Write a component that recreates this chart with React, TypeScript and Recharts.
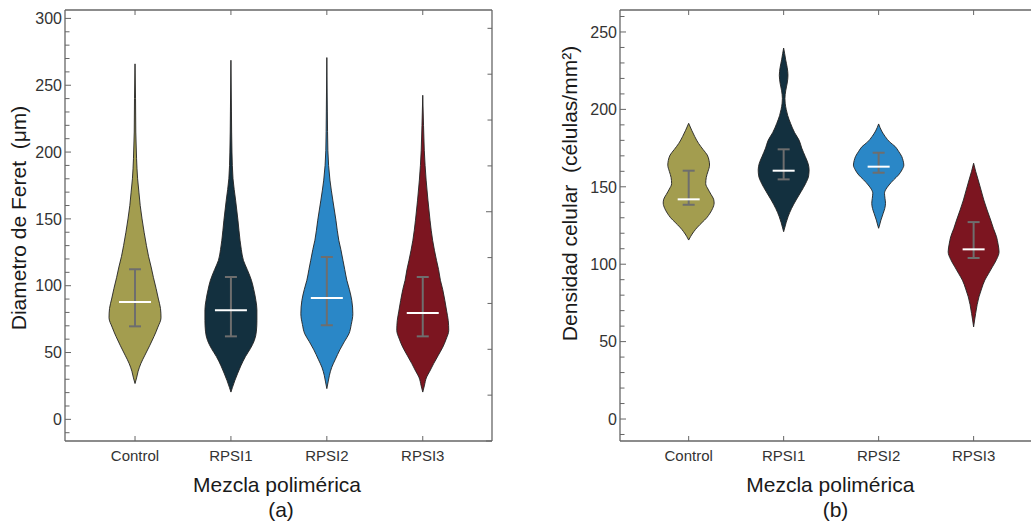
import React from 'react';
import { ComposedChart, Area, Scatter, ErrorBar, XAxis, YAxis } from 'recharts';

const CATEGORIES = ['Control', 'RPSI1', 'RPSI2', 'RPSI3'];
const POSITIONS = [1, 2, 3, 4];
const COLORS = ['#A39D4F', '#13303F', '#2A87C7', '#7C1520'];

// ---------- Panel (a): Diametro de Feret ----------
const feretControlY = [26.8, 31, 36, 42, 48, 55, 62, 69, 76, 83, 90, 98, 106, 114, 122, 130, 140, 150, 160, 170, 180, 195, 215, 240, 266];
const feretControlD = [0, 0.06, 0.12, 0.23, 0.38, 0.56, 0.73, 0.88, 1, 0.98, 0.9, 0.81, 0.71, 0.62, 0.52, 0.44, 0.35, 0.27, 0.2, 0.15, 0.1, 0.06, 0.03, 0.02, 0];
const feretRpsi1Y = [20.4, 24, 29, 34, 40, 47, 53, 59, 66, 74, 82, 89, 97, 104, 112, 119, 127, 134, 149, 164, 180, 200, 230, 268.7];
const feretRpsi1D = [0, 0.06, 0.15, 0.25, 0.38, 0.56, 0.75, 0.9, 0.98, 1, 1, 0.96, 0.88, 0.79, 0.63, 0.48, 0.4, 0.35, 0.27, 0.18, 0.08, 0.04, 0.02, 0];
const feretRpsi2Y = [23, 28, 33, 39, 45, 52, 58, 64, 71, 79, 89, 97, 104, 112, 119, 127, 134, 149, 164, 179, 201, 230, 270.7];
const feretRpsi2D = [0, 0.05, 0.1, 0.19, 0.33, 0.5, 0.67, 0.85, 0.94, 1, 0.96, 0.87, 0.77, 0.69, 0.62, 0.54, 0.46, 0.35, 0.23, 0.12, 0.04, 0.02, 0];
const feretRpsi3Y = [20.4, 25, 31.7, 36, 41.7, 48, 54, 60, 66.6, 74, 81, 89, 97, 104, 112, 119, 134, 149, 164, 179, 201, 220, 242.5];
const feretRpsi3D = [0, 0.06, 0.15, 0.27, 0.42, 0.6, 0.77, 0.9, 1, 0.98, 0.92, 0.85, 0.77, 0.68, 0.61, 0.53, 0.38, 0.28, 0.2, 0.13, 0.06, 0.03, 0];
const feretMedian = [87.8, 81.6, 90.8, 79.6];
const feretLower = [69.6, 62.1, 70.4, 62.1];
const feretUpper = [112.3, 106.5, 121.5, 106.5];
const feretMajorTicks = [0, 50, 100, 150, 200, 250, 300];

// ---------- Panel (b): Densidad celular ----------
const densControlY = [115.6, 118, 121, 124, 127, 130, 133, 136, 139.5, 142, 145, 148.5, 152, 156, 160, 164, 167, 170.5, 174, 178, 182.4, 186.5, 191];
const densControlD = [0, 0.08, 0.2, 0.35, 0.53, 0.71, 0.84, 0.94, 1, 0.98, 0.88, 0.76, 0.67, 0.69, 0.76, 0.82, 0.8, 0.73, 0.57, 0.39, 0.24, 0.12, 0];
const densRpsi1Y = [121, 124, 127, 131, 136, 141.5, 147, 152, 157, 161, 165, 169.5, 175, 180, 185, 191, 196, 200, 204, 207, 212, 217, 222, 227, 232, 236, 239.6];
const densRpsi1D = [0, 0.05, 0.1, 0.18, 0.31, 0.49, 0.69, 0.86, 0.98, 1, 0.96, 0.85, 0.71, 0.61, 0.43, 0.27, 0.16, 0.1, 0.06, 0.05, 0.08, 0.14, 0.17, 0.14, 0.08, 0.04, 0];
const densRpsi2Y = [123.2, 126, 128.5, 132.9, 136, 139.3, 142.5, 145.8, 148.5, 151.2, 154.5, 157.6, 161, 164, 167, 169.5, 173, 176, 179, 182.4, 186, 190.6];
const densRpsi2D = [0, 0.05, 0.09, 0.18, 0.24, 0.27, 0.25, 0.23, 0.29, 0.41, 0.59, 0.78, 0.92, 0.99, 0.96, 0.91, 0.78, 0.65, 0.43, 0.26, 0.12, 0];
const densRpsi3Y = [59.5, 64, 68.2, 74, 78.9, 84, 89.7, 94, 98.3, 103, 108, 113, 117.7, 123, 128.5, 135, 141.5, 148, 154.4, 160, 165.2];
const densRpsi3D = [0, 0.04, 0.08, 0.14, 0.21, 0.31, 0.44, 0.59, 0.74, 0.9, 1, 0.96, 0.9, 0.78, 0.67, 0.53, 0.4, 0.29, 0.18, 0.08, 0];
const densMedian = [141.9, 160.4, 163, 109.6];
const densLower = [138.4, 154.8, 159.1, 104];
const densUpper = [160.4, 174.2, 172, 127.2];
const densMajorTicks = [0, 50, 100, 150, 200, 250];

const AXIS = '#666666';
const TICK_TEXT = '#333333';
const TITLE = '#1a1a1a';
const FONT = '"Liberation Sans", Arial, Helvetica, sans-serif';

type Violin = { values: number[]; density: number[] };

function buildRows(violins: Violin[], halfMax: number) {
  const rows: any[] = [];
  violins.forEach((v, i) => {
    v.values.forEach((y, j) => {
      const hw = v.density[j] * halfMax;
      rows.push({ y, ['v' + i]: [POSITIONS[i] - hw, POSITIONS[i] + hw] });
    });
  });
  rows.sort((a, b) => a.y - b.y);
  return rows;
}

function minorTicks(lo: number, hi: number, step: number) {
  const t: number[] = [];
  for (let v = lo; v <= hi; v += step) t.push(v);
  return t;
}

const LeftTick = (props: any) => {
  const { x, y, payload, majors } = props;
  const v = payload.value;
  const major = majors.includes(v);
  const ax = x + 3;
  return (
    <g>
      <line x1={ax} x2={ax + (major ? 6 : 4.5)} y1={y} y2={y} stroke={AXIS} strokeWidth={1} />
      {major && (
        <text x={x} y={y} dy="0.36em" textAnchor="end" fontSize={16} fill={TICK_TEXT} fontFamily={FONT}>
          {v}
        </text>
      )}
    </g>
  );
};

const RightTick = (props: any) => {
  const { x, y, payload, majors } = props;
  const major = majors.includes(payload.value);
  return <line x1={x} x2={x - (major ? 6 : 4.5)} y1={y} y2={y} stroke={AXIS} strokeWidth={1} />;
};

const TopTick = (props: any) => {
  const { x, y } = props;
  return <line x1={x} x2={x} y1={y} y2={y + 5} stroke={AXIS} strokeWidth={1} />;
};

const BottomTick = (props: any) => {
  const { x, y, payload } = props;
  return (
    <g>
      <line x1={x} x2={x} y1={y} y2={y - 5} stroke={AXIS} strokeWidth={1} />
      <text x={x} y={y + 19.8} textAnchor="middle" fontSize={15} fill={TICK_TEXT} fontFamily={FONT}>
        {CATEGORIES[payload.value - 1]}
      </text>
    </g>
  );
};

type PanelProps = {
  left: number;
  width: number;
  yAxisWidth: number;
  violins: Violin[];
  halfMax: number;
  medians: number[];
  lowers: number[];
  uppers: number[];
  yDomain: [number, number];
  yTicks: number[];
  majors: number[];
  xDomain: [number, number];
  medianHalf: number;
};

function ViolinPanel(p: PanelProps) {
  const rows = buildRows(p.violins, p.halfMax);
  const stats = POSITIONS.map((x, i) => ({
    x,
    y: p.medians[i],
    err: [p.medians[i] - p.lowers[i], p.uppers[i] - p.medians[i]],
  }));
  const axisLine = { stroke: AXIS, strokeWidth: 1.3 };
  return (
    <div style={{ position: 'absolute', left: p.left, top: 0 }}>
      <ComposedChart
        layout="vertical"
        width={p.width}
        height={470}
        data={rows}
        margin={{ top: 5, right: 0, bottom: 0, left: 0 }}
      >
        <XAxis
          type="number"
          domain={p.xDomain}
          ticks={POSITIONS}
          interval={0}
          allowDataOverflow
          height={29}
          tickSize={0}
          tickMargin={0}
          tickLine={false}
          axisLine={axisLine}
          tick={(tp: any) => <BottomTick {...tp} />}
        />
        <XAxis
          xAxisId="top"
          orientation="top"
          type="number"
          domain={p.xDomain}
          ticks={POSITIONS}
          interval={0}
          allowDataOverflow
          height={5}
          tickSize={0}
          tickMargin={0}
          tickLine={false}
          axisLine={axisLine}
          tick={(tp: any) => <TopTick {...tp} />}
        />
        <YAxis
          type="number"
          dataKey="y"
          reversed
          domain={p.yDomain}
          ticks={p.yTicks}
          interval={0}
          allowDataOverflow
          width={p.yAxisWidth}
          tickSize={0}
          tickMargin={3}
          tickLine={false}
          axisLine={axisLine}
          tick={(tp: any) => <LeftTick {...tp} majors={p.majors} />}
        />
        <YAxis
          yAxisId="right"
          orientation="right"
          type="number"
          reversed
          domain={p.yDomain}
          ticks={p.yTicks}
          interval={0}
          allowDataOverflow
          width={8}
          tickSize={0}
          tickMargin={0}
          tickLine={false}
          axisLine={axisLine}
          tick={(tp: any) => <RightTick {...tp} majors={p.majors} />}
        />
        {p.violins.map((_, i) => (
          <Area
            key={i}
            dataKey={(d: any) => d['v' + i] ?? [null, null]}
            type="monotone"
            fill={COLORS[i]}
            fillOpacity={1}
            stroke="#222222"
            strokeWidth={0.9}
            connectNulls
            dot={false}
            activeDot={false}
            isAnimationActive={false}
          />
        ))}
        <Scatter
          data={stats}
          dataKey="x"
          isAnimationActive={false}
          shape={(sp: any) => (
            <line
              x1={sp.cx - p.medianHalf}
              x2={sp.cx + p.medianHalf}
              y1={sp.cy}
              y2={sp.cy}
              stroke="#ffffff"
              strokeWidth={2}
            />
          )}
        >
          <ErrorBar dataKey="err" direction="y" width={6} stroke="#6e6e6e" strokeWidth={2} />
        </Scatter>
      </ComposedChart>
    </div>
  );
}

export default function App() {
  const feretViolins: Violin[] = [
    { values: feretControlY, density: feretControlD },
    { values: feretRpsi1Y, density: feretRpsi1D },
    { values: feretRpsi2Y, density: feretRpsi2D },
    { values: feretRpsi3Y, density: feretRpsi3D },
  ];
  const densViolins: Violin[] = [
    { values: densControlY, density: densControlD },
    { values: densRpsi1Y, density: densRpsi1D },
    { values: densRpsi2Y, density: densRpsi2D },
    { values: densRpsi3Y, density: densRpsi3D },
  ];
  return (
    <div
      style={{
        position: 'fixed',
        left: 0,
        top: 0,
        width: 1031,
        height: 527,
        overflow: 'hidden',
        background: '#ffffff',
        fontFamily: FONT,
      }}
    >
      <ViolinPanel
        left={0}
        width={500}
        yAxisWidth={65}
        violins={feretViolins}
        halfMax={0.271}
        medians={feretMedian}
        lowers={feretLower}
        uppers={feretUpper}
        yDomain={[-16.2, 306.3]}
        yTicks={minorTicks(-10, 300, 10)}
        majors={feretMajorTicks}
        xDomain={[0.27, 4.722]}
        medianHalf={16}
      />
      <ViolinPanel
        left={560}
        width={490}
        yAxisWidth={60}
        violins={densViolins}
        halfMax={0.268}
        medians={densMedian}
        lowers={densLower}
        uppers={densUpper}
        yDomain={[-14.2, 264.2]}
        yTicks={minorTicks(-10, 260, 10)}
        majors={densMajorTicks}
        xDomain={[0.277, 4.72]}
        medianHalf={11}
      />
      <svg
        width={1031}
        height={527}
        style={{ position: 'absolute', left: 0, top: 0, pointerEvents: 'none' }}
      >
        <g fontFamily={FONT} fill={TITLE} fontSize={21} style={{ whiteSpace: 'pre' }}>
          <text transform="translate(26,218) rotate(-90)" textAnchor="middle" xmlSpace="preserve">
            {'Diametro de Feret  (μm)'}
          </text>
          <text transform="translate(577,193.5) rotate(-90)" textAnchor="middle" xmlSpace="preserve">
            {'Densidad celular  (células/mm²)'}
          </text>
          <text x={277} y={491.5} textAnchor="middle">Mezcla polimérica</text>
          <text x={830.3} y={491.7} textAnchor="middle">Mezcla polimérica</text>
          <text x={281} y={517} textAnchor="middle">(a)</text>
          <text x={835.5} y={517} textAnchor="middle">(b)</text>
        </g>
      </svg>
    </div>
  );
}
